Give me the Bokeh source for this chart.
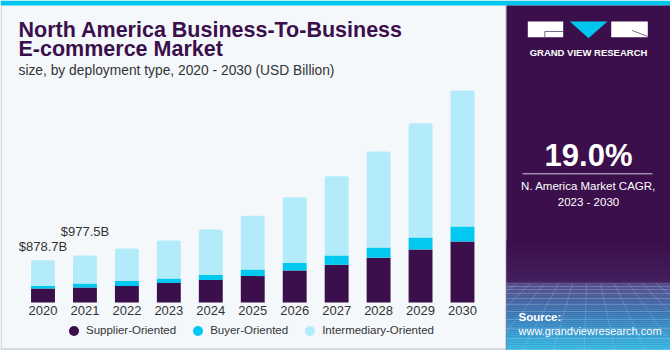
from bokeh.plotting import figure
from bokeh.models import Range1d, Legend, LegendItem, ColumnDataSource
from bokeh.core.properties import value
from bokeh.embed import file_html
from bokeh.resources import INLINE

# ---------------- data ----------------
years = ["2020", "2021", "2022", "2023", "2024", "2025", "2026", "2027", "2028", "2029", "2030"]
supplier = [292, 312, 341, 404, 466, 549, 666, 784, 930, 1102, 1269]
buyer = [56, 83, 104, 96, 110, 137, 154, 193, 214, 250, 312]
intermediary = [530.7, 582.5, 678, 790, 942, 1117, 1364, 1643, 1991, 2371, 2823]
series_names = ["Supplier-Oriented", "Buyer-Oriented", "Intermediary-Oriented"]
label_years = ["2020", "2021"]
label_texts = ["$878.7B", "$977.5B"]
title_lines = ["North America Business-To-Business", "E-commerce Market"]
subtitle = "size, by deployment type, 2020 - 2030 (USD Billion)"
cagr_value = "19.0%"
cagr_lines = ["N. America Market CAGR,", "2023 - 2030"]
brand = "GRAND VIEW RESEARCH"
source_lines = ["Source:", "www.grandviewresearch.com"]

# ---------------- styles ----------------
BG = "#f4f8fb"
PURPLE = "#3b0f4b"
CYAN = "#00c8f0"
LIGHT = "#b3ebfa"
colors = [PURPLE, CYAN, LIGHT]
TXT = "#333333"
FONT = "Liberation Sans"
W, H = 670, 350

# One figure whose frame is the whole canvas. Default ranges are pixel-like layout
# coordinates (y downwards) for decoration; the data use their own ranges.
p = figure(width=W, height=H, x_range=Range1d(0, W), y_range=Range1d(H, 0),
           x_axis_type=None, y_axis_type=None, output_backend="svg", toolbar_location=None,
           min_border=0, background_fill_color=BG, border_fill_color=BG, outline_line_color=None)
# data ranges: category spacing 41.95px, first bar centred at 42.5px, baseline at 302px,
# 20.77 USD bn per pixel
p.extra_x_ranges = {"yr": Range1d(2020 - 42.5 / 41.95, 2020 + (W - 42.5) / 41.95)}
p.extra_y_ranges = {"val": Range1d(-48 * 20.77, 302 * 20.77)}

# frame decorations of the chart area
p.quad(left=[0], right=[W], top=[0], bottom=[5], color="#00c5ee", line_color=None)
p.quad(left=[0, 0], right=[1.5, 506], top=[5, 347.5], bottom=[H, H], color="#d9dadc",
       line_color=None)

# ---------------- bars ----------------
year_num = [int(y) for y in years]
src = ColumnDataSource(dict(year=year_num, s=supplier, b=buyer, i=intermediary))
rs = p.vbar_stack(["s", "b", "i"], x="year", width=0.57, color=colors, line_color=None,
                  source=src, x_range_name="yr", y_range_name="val")
rs[2].glyph.border_radius = [2, 2, 0, 0]

# year labels under the bars
p.text(x=year_num, y=[0] * len(years), text=years, y_offset=8, text_align="center",
       text_baseline="middle", text_font=value(FONT), text_font_size="13px", text_color=TXT,
       x_range_name="yr", y_range_name="val")

# value labels
totals = [supplier[k] + buyer[k] + intermediary[k] for k in range(len(label_years))]
p.text(x=[int(y) for y in label_years], y=totals, text=label_texts, y_offset=[-14, -24],
       text_align="center", text_baseline="middle", text_font=value(FONT),
       text_font_size="13px", text_color=TXT, x_range_name="yr", y_range_name="val")

# legend (circle swatches)
swatches = [p.scatter(x=[year_num[0]], y=[0], marker="circle", size=0, color=c, line_color=None,
                      x_range_name="yr", y_range_name="val") for c in colors]
legend = Legend(items=[LegendItem(label=n, renderers=[r]) for n, r in zip(series_names, swatches)],
                orientation="horizontal", location=(61, 7.5), border_line_color=None,
                background_fill_alpha=0, label_text_font=FONT, label_text_font_size="11.5px",
                label_text_color=TXT, glyph_width=25, glyph_height=25, spacing=9,
                label_standoff=0, padding=0, margin=0)
p.add_layout(legend, "center")

# titles
p.text(x=[18, 18], y=[29, 48.5], text=title_lines, text_font=value(FONT), text_font_style="bold",
       text_font_size="21.5px", text_color=PURPLE, text_baseline="middle")
p.text(x=[18], y=[69.5], text=[subtitle], text_font=value(FONT), text_font_size="13.8px",
       text_color=TXT, text_baseline="middle")

# ---------------- right panel ----------------
X0 = 506
PW = W - X0
p.quad(left=[X0 - 1], right=[X0], top=[5], bottom=[H], color="#b9b3c2", line_color=None)
p.quad(left=[X0], right=[W], top=[5], bottom=[H], color=PURPLE, line_color=None)


def lerp(c1, c2, t):
    a = [int(c1[k:k + 2], 16) for k in (1, 3, 5)]
    b = [int(c2[k:k + 2], 16) for k in (1, 3, 5)]
    return "#%02x%02x%02x" % tuple(round(a[k] + (b[k] - a[k]) * t) for k in range(3))


tops, bots, cols = [], [], []
n1 = 14
for k in range(n1):
    tops.append(240 + k * 3); bots.append(243.2 + k * 3)
    cols.append(lerp(PURPLE, "#44205e", k / (n1 - 1)))
n2 = 34
for k in range(n2):
    t = k / (n2 - 1)
    tops.append(282 + k * 2); bots.append(284.2 + k * 2)
    if t < 0.5:
        cols.append(lerp("#5b4f8c", "#3f86c2", t / 0.5))
    else:
        cols.append(lerp("#3f86c2", "#3cc3ec", (t - 0.5) / 0.5))
p.quad(left=X0, right=W, top=tops, bottom=bots, color=cols, line_color=None)

# perspective grid, clipped to the panel
hy = [286, 289, 293, 298, 304, 311, 319, 328, 338, 349]
p.multi_line(xs=[[X0, W]] * len(hy), ys=[[y, y] for y in hy], line_color="#a8dcf2",
             line_alpha=0.35, line_width=0.8)
gx, gy = [], []
for xt in range(-60, 240, 14):
    xb = 82 + (xt - 82) * 2.2
    y0, y1 = 283.0, 350.0
    x0, x1 = float(xt), float(xb)
    for lim in (0.0, float(PW)):
        def cut(xa, ya, xc, yc):
            return ya + (lim - xa) / (xc - xa) * (yc - ya)
        if (x0 - lim) * (x1 - lim) < 0:
            yc = cut(x0, y0, x1, y1)
            if (lim == 0.0 and x0 < 0) or (lim == PW and x0 > PW):
                x0, y0 = lim, yc
            else:
                x1, y1 = lim, yc
    if 0 <= x0 <= PW and 0 <= x1 <= PW:
        gx.append([X0 + x0, X0 + x1]); gy.append([y0, y1])
p.multi_line(xs=gx, ys=gy, line_color="#a8dcf2", line_alpha=0.3, line_width=0.8)

# logo
p.quad(left=[X0 + 21.3, X0 + 104.7], right=[X0 + 56.7, X0 + 141.3], top=[21, 21],
       bottom=[36.7, 36.7], color="white", line_color=None)
p.patch(x=[X0 + 63.3, X0 + 101, X0 + 82], y=[21, 21, 37.7], color="#00c5ee", line_color=None)
p.multi_line(xs=[[X0 + 38.3, X0 + 38.3, X0 + 56.7], [X0 + 125.7, X0 + 141.3]],
             ys=[[36.7, 31, 31], [30, 36]], line_color="#7a6a8a", line_width=1)
p.text(x=[X0 + 82], y=[51.7], text=[brand], text_align="center", text_baseline="middle",
       text_font=value(FONT), text_font_style="bold", text_font_size="9.5px", text_color="white")

p.text(x=[X0 + 82], y=[155], text=[cagr_value], text_align="center", text_baseline="middle",
       text_font=value(FONT), text_font_style="bold", text_font_size="31px", text_color="white")
p.line(x=[X0 + 16, X0 + 146], y=[173.3, 173.3], line_color="#cfc6d8", line_width=1)
p.text(x=[X0 + 82, X0 + 82], y=[185, 201], text=cagr_lines, text_align="center",
       text_baseline="middle", text_font=value(FONT), text_font_size="11.5px", text_color="white")
p.text(x=[X0 + 12], y=[316], text=[source_lines[0]], text_baseline="middle",
       text_font=value(FONT), text_font_style="bold", text_font_size="11.5px", text_color="white")
p.text(x=[X0 + 12], y=[330], text=[source_lines[1]], text_baseline="middle",
       text_font=value(FONT), text_font_size="11px", text_color="white")

open("out.html", "w").write(file_html(p, INLINE))
